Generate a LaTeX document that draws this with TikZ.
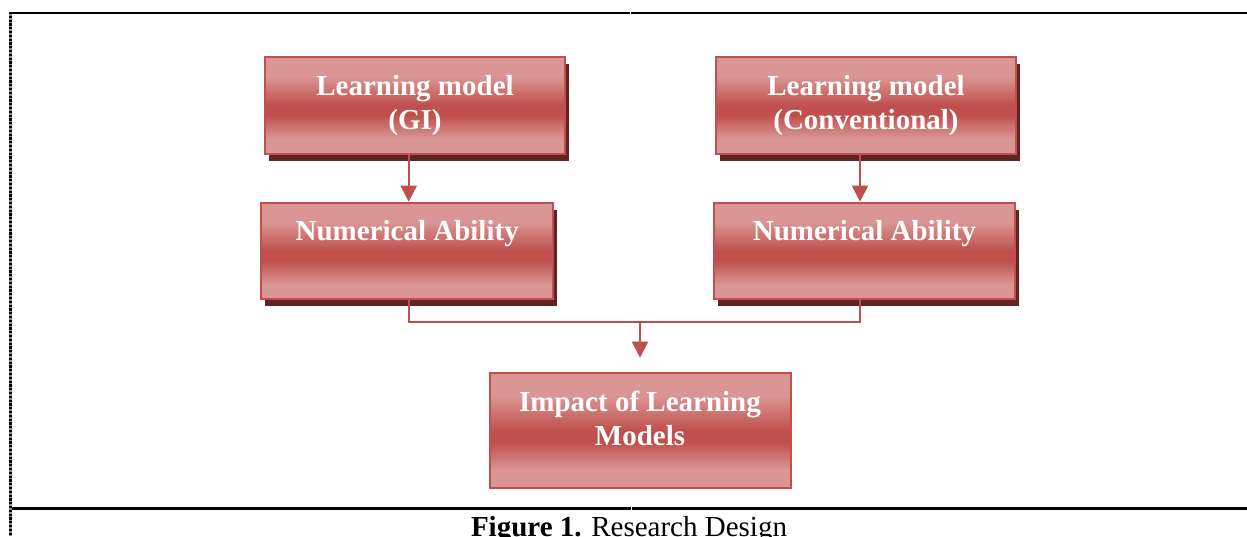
\documentclass[tikz,border=0pt]{standalone}
\usepackage{fontspec}
\setmainfont{Liberation Serif}
\usetikzlibrary{arrows.meta,shadows,calc}
\definecolor{acc}{HTML}{C0504D}
\definecolor{acclt}{HTML}{D99694}
\definecolor{shd}{HTML}{622423}
\pgfdeclareverticalshading{boxshade}{100bp}{color(0bp)=(acclt); color(25bp)=(acclt); color(33bp)=(acclt); color(45bp)=(acc); color(50bp)=(acc); color(65bp)=(acclt); color(100bp)=(acclt)}
\tikzset{
  box/.style={rectangle, draw=acc, line width=2pt, shade, shading=boxshade, inner sep=0pt},
  shbox/.style={box, drop shadow={shadow xshift=4pt, shadow yshift=-7pt, fill=shd, opacity=1}},
  lbl/.style={anchor=base, text=white, inner sep=0pt, font=\bfseries\fontsize{29}{34.5}\selectfont},
  conn/.style={draw=acc, line width=2pt},
  arr/.style={conn, -{Triangle[length=16pt,width=16pt]}},
  frame/.style={draw=black, line width=2.2pt},
}
\begin{document}
\begin{tikzpicture}[x=1pt,y=-1pt]
\useasboundingbox (0,0) rectangle (1247,536);
\clip (0,0) rectangle (1247,536);
% frame lines
\draw[frame] (9,13) -- (629.5,13);
\draw[frame] (631,13) -- (1247,13);
\draw[frame] (9,508.5) -- (630.5,508.5);
\draw[frame] (632,508.5) -- (1247,508.5);
\draw[black!45, line width=2.6pt] (10.5,12) -- (10.5,536);
\draw[black, line width=2.6pt, dash pattern=on 2.2pt off 1.6pt] (10.5,12) -- (10.5,536);
% boxes
\node[shbox, minimum width=300, minimum height=97] (b1) at (415,105.5) {};
\node[shbox, minimum width=300, minimum height=97] (b2) at (866,105.5) {};
\node[shbox, minimum width=291.6, minimum height=96.6] (b3) at (407.2,251) {};
\node[shbox, minimum width=300.8, minimum height=96.6] (b4) at (864.4,251) {};
\node[box, minimum width=301, minimum height=115.6] (b5) at (640,430.5) {};
% labels
\node[lbl] (t1) at (415,95) {\begin{tabular}[t]{@{}c@{}}Learning model\\(GI)\end{tabular}};
\node[lbl] (t2) at (866,95) {\begin{tabular}[t]{@{}c@{}}Learning model\\(Conventional)\end{tabular}};
\node[lbl] (t3) at (407.2,240.5) {Numerical Ability};
\node[lbl] (t4) at (864.4,240.5) {Numerical Ability};
\node[lbl] (t5) at (640,411) {\begin{tabular}[t]{@{}c@{}}Impact of Learning\\Models\end{tabular}};
% connectors
\coordinate (a1) at ($(b3.north)+(1.5,0)$);
\coordinate (a2) at ($(b4.north)+(-4.4,0)$);
\coordinate (c3) at ($(b3.south)+(1.8,0)$);
\coordinate (c4) at ($(b4.south)+(-4.4,0)$);
\coordinate (j) at (640,322);
\coordinate (tip) at ($(b5.north)+(0,-14)$);
\draw[arr] (b1.south -| a1) -- (a1);
\draw[arr] (b2.south -| a2) -- (a2);
\draw[conn] (c3) |- (c4 |- j) -- (c4);
\draw[arr] (j) -- (tip);
% caption
\node[anchor=base, inner sep=0pt, font=\fontsize{29}{34}\selectfont] (cap) at (629,536) {\textbf{Figure 1.} Research Design};
\end{tikzpicture}
\end{document}
